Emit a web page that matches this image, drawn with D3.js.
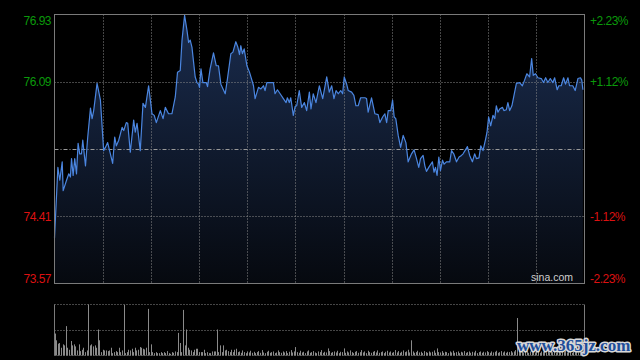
<!DOCTYPE html>
<html>
<head>
<meta charset="utf-8">
<script src="https://cdn.jsdelivr.net/npm/d3@7"></script>
<style>
  html, body { margin: 0; padding: 0; background: #000; }
  svg { display: block; }
  .lbl { font-family: "Liberation Sans", Arial, sans-serif; font-size: 12px; letter-spacing: -0.5px; }
</style>
</head>
<body>
<div id="chart"></div>
<script>
var W = 640, H = 360;
var LEFT = 54.5, RIGHT = 584.5, TOP = 14.5, BOTTOM = 283.5;
var VTOP = 304.5, VBOTTOM = 355.5;
var LINE = "#4b86e0", GRID = "#8a8a8a", BORDER = "#7a7a7a";
var UP = "#0b9a0b", DOWN = "#dd1111";

// minutes after open (HK session, 330 min) and last price
var times = [0,2.1,3.3,4.8,5.4,7.5,8.9,9.9,10.6,11.6,
  12.6,13.7,14.7,15.7,16.8,17.6,19.3,20.7,22.4,23.4,
  24.4,26.5,28.6,30.6,31.7,33.1,34.8,36.2,37.5,38.5,
  40.0,42.1,43.1,44.7,45.6,47.2,49.3,50.3,51.4,53.4,
  55.1,56.6,58.6,60.7,62.1,63.4,65.9,67.6,69.0,71.0,
  73.1,75.2,76.6,78.3,79.4,81.0,82.5,83.5,84.5,85.6,
  87.6,88.7,89.7,90.3,91.2,92.4,94.5,95.3,96.9,99.0,
  100.7,102.1,103.6,106.3,107.7,109.8,111.1,112.9,114.2,115.2,
  116.0,117.0,118.1,119.8,121.4,122.9,123.9,124.9,127.0,128.5,
  130.1,131.1,132.2,136.3,137.3,138.8,140.5,142.5,144.2,145.0,
  146.2,147.1,148.7,149.8,150.8,152.4,153.9,155.6,157.0,158.7,
  159.7,161.1,162.8,164.9,167.0,169.5,171.1,172.6,174.0,175.3,
  176.7,178.2,179.4,180.4,181.9,182.9,185.0,186.4,187.7,189.1,
  190.6,193.3,194.3,195.3,197.4,199.5,201.5,202.6,204.3,205.7,
  206.8,207.8,209.4,210.5,211.5,212.5,214.0,215.5,217.1,218.8,
  220.2,222.3,223.9,225.4,226.8,227.9,229.5,230.6,231.6,233.3,
  235.3,236.3,237.2,238.2,239.3,240.3,241.6,242.6,244.0,246.1,
  247.2,248.6,250.3,251.9,253.4,254.4,255.6,257.1,258.5,260.2,
  261.6,262.7,264.3,265.4,266.8,268.5,269.3,270.3,271.6,273.0,
  274.1,275.1,276.1,277.2,278.9,279.8,281.3,282.3,283.4,284.8,
  286.5,287.6,289.6,291.3,292.7,294.1,295.8,297.1,298.1,299.5,
  301.0,303.1,304.5,305.8,307.2,308.7,310.3,311.4,313.0,314.0,
  315.5,317.0,318.2,319.7,320.7,322.7,324.2,325.9,327.5,328.3,
  329.0];
var prices = [74.14,75.02,74.86,75.09,74.73,74.86,74.94,74.90,75.13,74.92,
  75.13,74.94,75.32,75.19,75.19,75.36,75.04,75.40,75.76,75.63,
  75.73,76.07,75.86,75.23,75.27,75.33,75.19,75.07,75.40,75.29,
  75.36,75.52,75.48,75.58,75.57,75.21,75.61,75.46,75.57,75.23,
  75.82,75.77,76.04,75.69,75.67,75.58,75.73,75.63,75.77,75.69,
  75.69,75.90,76.21,76.23,76.61,76.92,76.73,76.58,76.61,76.52,
  76.15,76.08,76.06,76.02,76.25,76.08,76.08,76.03,76.25,76.45,
  76.29,76.29,76.06,75.94,76.13,76.44,76.46,76.59,76.52,76.43,
  76.54,76.44,76.50,76.29,76.21,76.11,76.04,75.88,76.02,76.00,
  76.04,75.98,76.08,76.08,75.94,75.99,75.94,75.88,75.83,75.89,
  75.83,75.89,75.67,75.78,75.79,75.98,75.77,75.83,75.73,75.96,
  75.75,75.94,75.83,76.04,75.88,76.15,75.96,76.04,75.88,75.98,
  75.94,75.98,75.94,76.15,76.06,75.98,75.96,75.92,75.79,75.79,
  75.89,75.89,75.88,75.71,75.89,75.69,75.68,75.58,75.65,75.69,
  75.58,75.73,75.73,75.86,75.65,75.63,75.42,75.27,75.42,75.33,
  75.09,75.19,75.24,75.13,75.02,75.13,75.17,75.04,74.97,75.03,
  75.09,74.96,75.02,74.92,75.15,74.98,75.11,75.06,75.09,75.09,
  75.23,75.19,75.09,75.15,75.17,75.19,75.23,75.28,75.17,75.09,
  75.19,75.13,75.14,75.29,75.23,75.38,75.46,75.65,75.54,75.67,
  75.63,75.79,75.71,75.75,75.77,75.73,75.74,75.83,75.73,75.79,
  75.96,76.07,76.08,76.04,76.11,76.19,76.15,76.38,76.17,76.19,
  76.14,76.13,76.08,76.14,76.08,76.13,76.08,76.14,75.99,76.04,
  76.04,76.14,76.06,76.14,76.04,76.04,75.98,76.13,76.14,76.11,
  75.99];

// volume per minute (0..330), arbitrary units
var volumes = [65,45,35,37,23,33,30,87,23,17,43,30,33,27,15,33,13,17,23,10,
  15,151,30,33,27,30,23,77,45,10,17,15,15,13,15,23,7,10,13,10,
  23,10,15,150,7,10,17,15,20,10,23,15,17,25,23,20,18,23,138,10,
  33,10,7,10,7,7,10,7,10,7,13,7,5,10,8,12,10,67,37,10,
  135,30,77,23,17,15,10,17,20,20,10,10,10,17,7,10,7,7,12,12,
  12,77,10,30,10,30,15,17,13,10,17,10,17,20,10,
  12,8,15,10,7,12,9,14,8,11,7,10,
  13,8,16,9,7,11,14,8,10,12,7,9,
  15,10,8,12,9,13,7,11,16,9,12,25,
  10,8,14,9,11,7,12,15,8,10,13,9,
  7,12,10,16,8,11,9,21,13,8,10,12,
  9,14,7,11,10,21,8,12,9,15,10,7,
  11,13,8,10,16,9,12,7,14,10,8,11,
  13,9,15,8,10,12,7,11,14,9,12,8,
  10,16,9,13,8,11,15,10,12,17,9,45,
  12,8,10,14,9,11,7,13,10,8,12,9,
  11,15,8,21,10,9,13,8,11,10,7,12,
  9,14,8,10,12,7,11,9,13,8,10,12,
  8,11,9,14,7,10,12,8,11,9,13,10,
  8,12,9,11,14,8,10,13,9,12,8,11,
  10,13,9,12,16,111,14,10,12,9,11,13,
  8,12,10,15,9,11,13,8,12,10,14,9,
  11,8,13,10,12,9,15,11,8,12,10,14,
  9,12,11,8,13,10,12,9,14,11,10,13];

var prevClose = 75.25;
var priceTicks = [76.93, 76.09, 74.41, 73.57];
var SESSION = 330;

var svg = d3.select('#chart').append('svg').attr('width', W).attr('height', H);
svg.append('rect').attr('width', W).attr('height', H).attr('fill', '#000');

var x = d3.scaleLinear().domain([0, SESSION]).range([LEFT, RIGHT]);
var y = d3.scaleLinear().domain([73.57, 76.93]).range([BOTTOM, TOP]);
var vy = d3.scaleLinear().domain([0, d3.max(volumes)]).range([VBOTTOM, VTOP]);

var defs = svg.append('defs');
var grad = defs.append('linearGradient').attr('id', 'fill')
    .attr('gradientUnits', 'userSpaceOnUse')
    .attr('x1', 0).attr('y1', TOP).attr('x2', 0).attr('y2', BOTTOM);
grad.append('stop').attr('offset', '0%').attr('stop-color', '#1a2c4e');
grad.append('stop').attr('offset', '100%').attr('stop-color', '#06090f');

var pts = times.map(function(t, i){ return [t, prices[i]]; });

// area + line
svg.append('path')
    .datum(pts)
    .attr('fill', 'url(#fill)')
    .attr('d', d3.area().x(function(d){return x(d[0]);}).y0(BOTTOM).y1(function(d){return y(d[1]);}));

// grid
var g = svg.append('g').attr('class', 'grid');
g.selectAll('.vg').data(d3.range(30, SESSION, 30)).enter().append('line')
    .attr('x1', function(d){return Math.round(x(d)) + 0.5;}).attr('x2', function(d){return Math.round(x(d)) + 0.5;})
    .attr('y1', TOP).attr('y2', BOTTOM)
    .attr('stroke', GRID).attr('stroke-dasharray', '1,2');
g.selectAll('.hg').data([76.09, 74.41]).enter().append('line')
    .attr('x1', LEFT).attr('x2', RIGHT)
    .attr('y1', function(d){return Math.round(y(d)) + 0.5;}).attr('y2', function(d){return Math.round(y(d)) + 0.5;})
    .attr('stroke', GRID).attr('stroke-dasharray', '1,2');
g.append('line')
    .attr('x1', LEFT).attr('x2', RIGHT)
    .attr('y1', Math.round(y(prevClose)) + 0.5).attr('y2', Math.round(y(prevClose)) + 0.5)
    .attr('stroke', '#9a9a9a').attr('stroke-dasharray', '4,2,1,2');

svg.append('path')
    .datum(pts)
    .attr('fill', 'none')
    .attr('stroke', LINE)
    .attr('stroke-width', 1.2)
    .attr('stroke-linejoin', 'round')
    .attr('d', d3.line().x(function(d){return x(d[0]);}).y(function(d){return y(d[1]);}));

// border of price panel
svg.append('rect').attr('x', LEFT).attr('y', TOP).attr('width', RIGHT - LEFT).attr('height', BOTTOM - TOP)
    .attr('fill', 'none').attr('stroke', BORDER);

// labels
var pct = function(p){ var v = (p - prevClose) / prevClose * 100; return (v > 0 ? '+' : '') + v.toFixed(2) + '%'; };
var labelY = function(p, i){
    if (i === 0) return y(p) + 10.2;
    if (i === priceTicks.length - 1) return y(p) - 0.8;
    return y(p) + 4.3;
};
svg.selectAll('.pl').data(priceTicks).enter().append('text')
    .attr('class', 'lbl')
    .attr('x', 51).attr('y', labelY)
    .attr('text-anchor', 'end')
    .attr('fill', function(d){return d > prevClose ? UP : DOWN;})
    .text(function(d){return d.toFixed(2);});
svg.selectAll('.rl').data(priceTicks).enter().append('text')
    .attr('class', 'lbl')
    .attr('x', 590).attr('y', labelY)
    .attr('fill', function(d){return d > prevClose ? UP : DOWN;})
    .text(pct);

svg.append('text')
    .attr('x', 573).attr('y', 281)
    .attr('text-anchor', 'end')
    .style('font-family', '"Liberation Sans", Arial, sans-serif')
    .style('font-size', '10.5px')
    .attr('fill', '#cfcfcf')
    .text('sina.com');

// volume panel
var vg = svg.append('g').attr('class', 'volume');
vg.selectAll('.vl').data([VTOP, (VTOP + VBOTTOM) / 2, VBOTTOM]).enter().append('line')
    .attr('x1', LEFT).attr('x2', RIGHT)
    .attr('y1', function(d){return Math.round(d - 0.5) + 0.5;}).attr('y2', function(d){return Math.round(d - 0.5) + 0.5;})
    .attr('stroke', GRID).attr('stroke-dasharray', '1,2');
vg.selectAll('rect').data(volumes).enter().append('rect')
    .attr('x', function(d, i){return Math.round(x(i));})
    .attr('width', 1)
    .attr('y', function(d){return vy(d);})
    .attr('height', function(d){return VBOTTOM - vy(d);})
    .attr('fill', '#8a8a8a');
vg.selectAll('.vb').data([LEFT, RIGHT]).enter().append('line')
    .attr('x1', function(d){return d;}).attr('x2', function(d){return d;})
    .attr('y1', VTOP).attr('y2', VBOTTOM)
    .attr('stroke', BORDER);

// watermark
svg.append('text')
    .attr('x', 517).attr('y', 351)
    .style('font-family', '"Liberation Serif", "Times New Roman", serif')
    .style('font-weight', 'bold')
    .style('font-size', '17px')
    .style('paint-order', 'stroke')
    .attr('stroke', '#d8d8d8').attr('stroke-width', 3).attr('stroke-linejoin', 'round')
    .attr('fill', '#1e4e9a')
    .text('www.365jz.com');
</script>
</body>
</html>
